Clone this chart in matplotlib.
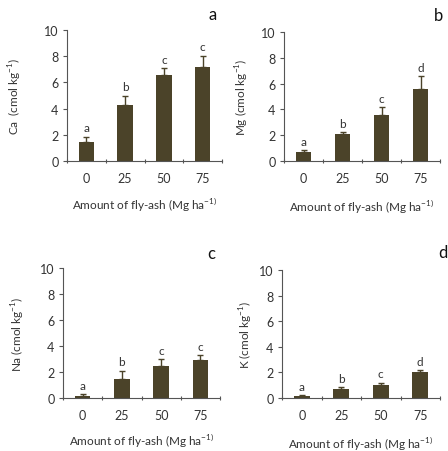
import matplotlib
matplotlib.use("Agg")
import matplotlib.pyplot as plt

plt.rcParams['font.family'] = ['Lato', 'DejaVu Sans']
plt.rcParams['mathtext.fontset'] = 'custom'
plt.rcParams['mathtext.rm'] = 'Lato'

doses = ['0', '25', '50', '75']

ca = [1.45, 4.3, 6.6, 7.15]
ca_err = [0.4, 0.7, 0.5, 0.9]
ca_letters = ['a', 'b', 'c', 'c']

mg = [0.7, 2.1, 3.55, 5.6]
mg_err = [0.15, 0.15, 0.65, 1.0]
mg_letters = ['a', 'b', 'c', 'd']

na = [0.15, 1.5, 2.45, 2.95]
na_err = [0.15, 0.6, 0.55, 0.35]
na_letters = ['a', 'b', 'c', 'c']

k = [0.12, 0.7, 1.05, 2.02]
k_err = [0.08, 0.15, 0.15, 0.13]
k_letters = ['a', 'b', 'c', 'd']

bar_color = '#4b4329'
text_color = '#333333'
xlabel = r'Amount of fly-ash (Mg ha$^{-1)}$'

fig = plt.figure(figsize=(4.48, 4.52), dpi=100)
W, H = 448, 452

panels = [
    # axes box (px), data, err, letters, ylabel, ylabel x, tag, tag pos, xlabel y
    ((67, 31, 222, 162), ca, ca_err, ca_letters, r'Ca  (cmol kg$^{-1}$)', 15, 'a', (213, 15), 205),
    ((284, 33, 440, 162), mg, mg_err, mg_letters, r'Mg (cmol kg$^{-1}$)', 242, 'b', (438, 16), 207),
    ((63, 269, 220, 399), na, na_err, na_letters, r'Na (cmol kg$^{-1}$)', 18, 'c', (211, 254), 441),
    ((282, 271, 440, 399), k, k_err, k_letters, r'K (cmol kg$^{-1}$)', 246, 'd', (443, 253), 444),
]

for (l, t, r, b), vals, errs, letters, ylab, ylx, tag, tagpos, xly in panels:
    ax = fig.add_axes([l / W, 1 - b / H, (r - l) / W, (b - t) / H])
    x = range(len(doses))
    ax.bar(x, vals, width=0.4, color=bar_color, yerr=[[0] * len(errs), errs],
           error_kw=dict(ecolor=bar_color, elinewidth=1, capsize=2.5, capthick=1))
    for i, (v, e, s) in enumerate(zip(vals, errs, letters)):
        ax.text(i, v + e + 0.25, s, ha='center', va='bottom', fontsize=8.5, color=text_color)
    ax.set_xlim(-0.5, 3.5)
    ax.set_ylim(0, 10)
    ax.set_yticks([0, 2, 4, 6, 8, 10])
    ax.set_xticks([-0.5, 0.5, 1.5, 2.5, 3.5])
    ax.set_xticklabels([])
    ax.set_xticks(list(x), minor=True)
    ax.set_xticklabels(doses, minor=True)
    ax.tick_params(axis='x', which='minor', length=0, pad=8, labelsize=9, labelcolor=text_color)
    ax.tick_params(axis='x', which='major', length=3, direction='inout', color='#555555')
    ax.tick_params(axis='y', length=3, labelsize=9, labelcolor=text_color, color='#555555', pad=3)
    for side in ['top', 'right']:
        ax.spines[side].set_visible(False)
    for side in ['left', 'bottom']:
        ax.spines[side].set_color('#555555')
        ax.spines[side].set_linewidth(0.8)
    fig.text(ylx / W, 1 - (t + b) / 2 / H, ylab, rotation=90, ha='center', va='center',
             fontsize=8.5, color=text_color)
    fig.text((l + r) / 2 / W, 1 - xly / H, xlabel, ha='center', va='center',
             fontsize=8.5, color=text_color)
    fig.text(tagpos[0] / W, 1 - tagpos[1] / H, tag, ha='center', va='center',
             fontsize=12, color='#111111')

fig.savefig('out.png', dpi=100)
